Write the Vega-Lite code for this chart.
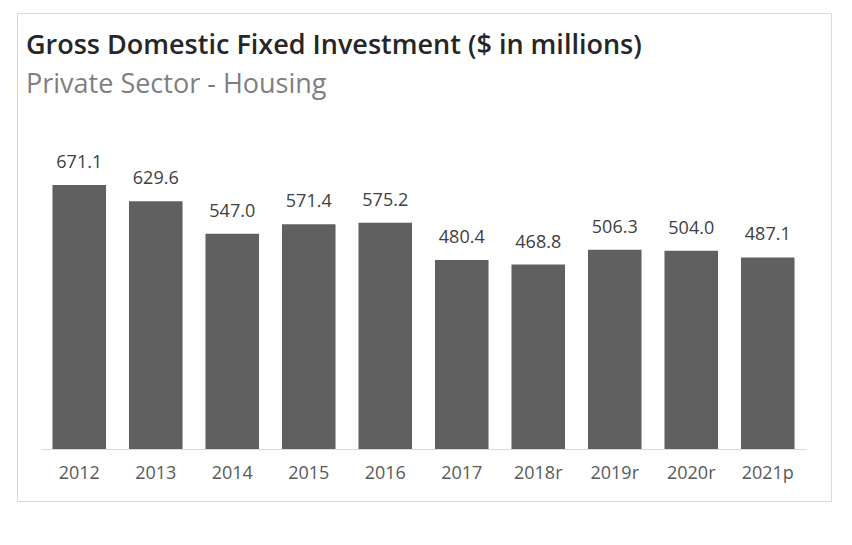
{
  "$schema": "https://vega.github.io/schema/vega-lite/v6.json",
  "width": 814,
  "height": 488,
  "autosize": "none",
  "padding": {"left": 17, "top": 13, "right": 21, "bottom": 44},
  "background": "white",
  "title": {
    "text": "Gross Domestic Fixed Investment ($ in millions)",
    "subtitle": "Private Sector - Housing",
    "anchor": "start",
    "frame": "group",
    "orient": "top",
    "offset": -86,
    "dx": 9,
    "font": "Open Sans",
    "fontSize": 27,
    "fontWeight": 600,
    "color": "#262626",
    "subtitleFont": "Open Sans",
    "subtitleFontSize": 27,
    "subtitleColor": "#7f7f7f",
    "subtitlePadding": 12
  },
  "data": {
    "values": [
      {"year": "2012", "value": 671.1},
      {"year": "2013", "value": 629.6},
      {"year": "2014", "value": 547.0},
      {"year": "2015", "value": 571.4},
      {"year": "2016", "value": 575.2},
      {"year": "2017", "value": 480.4},
      {"year": "2018r", "value": 468.8},
      {"year": "2019r", "value": 506.3},
      {"year": "2020r", "value": 504.0},
      {"year": "2021p", "value": 487.1}
    ]
  },
  "encoding": {
    "x": {
      "field": "year",
      "type": "nominal",
      "sort": null,
      "scale": {"range": [24, 789], "paddingInner": 0.3, "paddingOuter": 0.15},
      "axis": {
        "title": null,
        "labelAngle": 0,
        "ticks": false,
        "offset": -52,
        "domainColor": "#d9d9d9",
        "labelFont": "Open Sans",
        "labelFontSize": 18,
        "labelColor": "#595959",
        "labelPadding": 15
      }
    },
    "y": {
      "field": "value",
      "type": "quantitative",
      "scale": {"domain": [0, 800], "range": [436, 121.3]},
      "axis": null
    }
  },
  "layer": [
    {"mark": {"type": "bar", "color": "#606060"}},
    {
      "mark": {
        "type": "text",
        "baseline": "alphabetic",
        "dy": -17,
        "font": "Open Sans",
        "fontSize": 18,
        "color": "#404040"
      },
      "encoding": {"text": {"field": "value", "type": "quantitative", "format": ".1f"}}
    }
  ],
  "config": {
    "view": {"stroke": "#d9d9d9", "strokeWidth": 1},
    "axis": {"grid": false}
  }
}
